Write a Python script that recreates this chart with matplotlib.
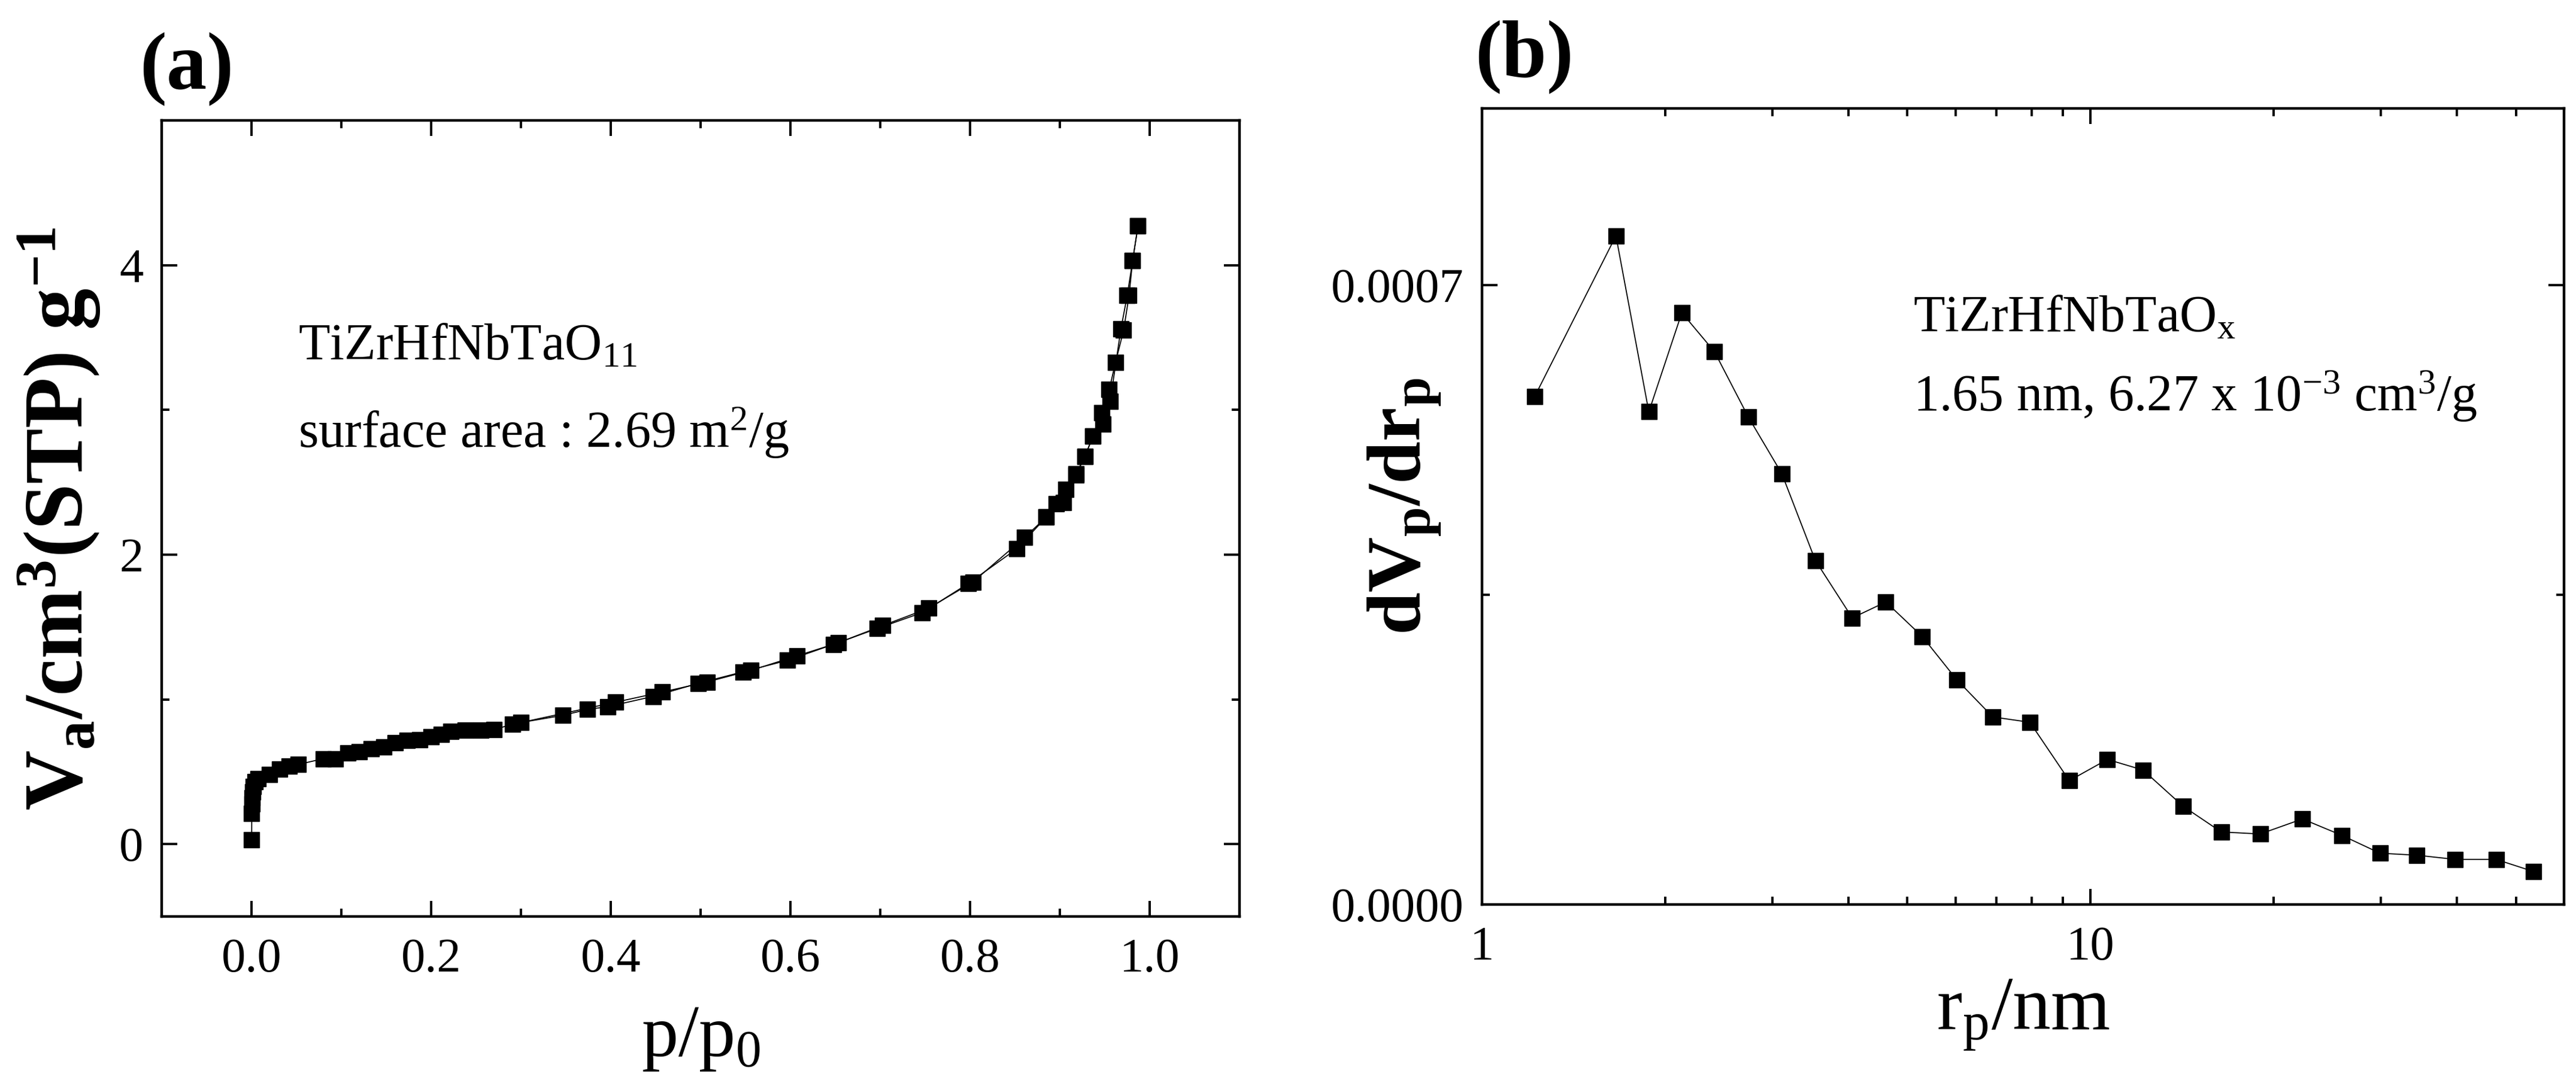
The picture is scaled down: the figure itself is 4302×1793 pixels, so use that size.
import numpy as np
import matplotlib
matplotlib.use('Agg')
import matplotlib.pyplot as plt
from matplotlib.ticker import MultipleLocator, FixedLocator, NullFormatter, LogLocator

plt.rcParams['font.family'] = ['Liberation Serif', 'DejaVu Serif']
plt.rcParams['mathtext.fontset'] = 'custom'
plt.rcParams['mathtext.rm'] = 'Liberation Serif'
plt.rcParams['mathtext.it'] = 'Liberation Serif:italic'
plt.rcParams['mathtext.bf'] = 'Liberation Serif:bold'

# (a) N2 isotherm - adsorption branch
p_ads = [0.0002, 0.0003, 0.0005, 0.0008, 0.0012, 0.002, 0.004, 0.007,
         0.020, 0.031, 0.042, 0.052,
         0.080, 0.093, 0.107, 0.120, 0.133, 0.147, 0.160, 0.173, 0.187, 0.200,
         0.211, 0.222, 0.238, 0.255, 0.270, 0.291,
         0.347, 0.374, 0.397, 0.447, 0.497, 0.547, 0.597, 0.648, 0.697, 0.747, 0.798,
         0.852, 0.885, 0.896, 0.907, 0.918, 0.928, 0.937, 0.947, 0.955, 0.962,
         0.971, 0.977, 0.981, 0.987]
v_ads = [0.03, 0.21, 0.28, 0.32, 0.36, 0.40, 0.43, 0.45,
         0.48, 0.52, 0.54, 0.55,
         0.59, 0.59, 0.63, 0.64, 0.66, 0.67, 0.70, 0.715, 0.72, 0.74,
         0.76, 0.78, 0.785, 0.785, 0.79, 0.83,
         0.89, 0.93, 0.95, 1.02, 1.11, 1.19, 1.27, 1.38, 1.49, 1.60, 1.80,
         2.04, 2.26, 2.35, 2.45, 2.55, 2.68, 2.82, 2.98, 3.14, 3.33,
         3.55, 3.79, 4.03, 4.27]

# (a) desorption branch
p_des = [0.987, 0.981, 0.975, 0.968, 0.956, 0.948, 0.937, 0.928, 0.918, 0.904,
         0.885, 0.861, 0.803, 0.754, 0.703, 0.653, 0.607, 0.556, 0.507, 0.457,
         0.405, 0.300]
v_des = [4.27, 4.03, 3.79, 3.56, 3.06, 2.90, 2.82, 2.68, 2.56, 2.36,
         2.26, 2.12, 1.81, 1.63, 1.51, 1.39, 1.30, 1.20, 1.12, 1.05,
         0.98, 0.84]

# (b) pore size distribution
r_p = [1.22, 1.66, 1.88, 2.13, 2.41, 2.74, 3.11, 3.53, 4.06, 4.61, 5.29, 6.03,
       6.91, 7.95, 9.23, 10.66, 12.2, 14.2, 16.4, 19.0, 22.3, 25.9, 29.9, 34.4,
       39.7, 46.4, 53.5]
dv_dr = [0.000574, 0.000756, 0.000557, 0.000669, 0.000625, 0.000551, 0.000487,
         0.000389, 0.000324, 0.000342, 0.000303, 0.000254, 0.000212, 0.000206,
         0.000140, 0.000164, 0.000152, 0.000111, 0.000082, 0.0000797, 0.0000967,
         0.0000781, 0.000058, 0.0000557, 0.000051, 0.000051, 0.0000372]

W, H = 4302, 1793
fig = plt.figure(figsize=(W / 100, H / 100), dpi=100)
ax1 = fig.add_axes([270 / W, 1 - 1530 / H, 1800 / W, 1329 / H])
ax2 = fig.add_axes([2475 / W, 1 - 1510 / H, 1807 / W, 1329 / H])

mk = dict(color='black', marker='s', markersize=19, linewidth=1.3)
ax1.plot(p_ads, v_ads, **mk)
ax1.plot(p_des, v_des, **mk)
ax2.plot(r_p, dv_dr, **mk)

ax1.set_xlim(-0.1, 1.1)
ax1.set_ylim(-0.5, 5.0)
ax1.xaxis.set_minor_locator(MultipleLocator(0.1))
ax1.yaxis.set_minor_locator(MultipleLocator(1))
ax1.set_xticks(np.arange(0, 1.01, 0.2))
ax1.set_xticklabels(['0.0', '0.2', '0.4', '0.6', '0.8', '1.0'])
ax1.set_yticks([0, 2, 4])
ax1.set_yticklabels(['0', '2', '4'])

ax2.set_xscale('log')
ax2.set_xlim(1, 60)
ax2.set_ylim(0, 0.0009)
ax2.set_xticks([1, 10])
ax2.set_xticklabels(['1', '10'])
ax2.xaxis.set_minor_locator(LogLocator(base=10, subs=np.arange(2, 10)))
ax2.xaxis.set_minor_formatter(NullFormatter())
ax2.set_yticks([0, 0.0007])
ax2.set_yticklabels(['0.0000', '0.0007'])
ax2.yaxis.set_minor_locator(FixedLocator([0.00035]))

for ax in (ax1, ax2):
    for s in ax.spines.values():
        s.set_linewidth(3.2)
    ax.tick_params(which='both', direction='in', top=True, right=True, width=2.8)
    ax.tick_params(which='major', length=18.5, labelsize=58)
    ax.tick_params(which='minor', length=9.5)
    ax.tick_params(axis='x', which='major', pad=26)
    ax.tick_params(axis='y', which='major', pad=22)

ax1.set_xlabel(r'p/p$_0$', fontsize=88)
ax1.xaxis.set_label_coords(0.5, -0.112)
ax1.set_ylabel(r'$\mathbf{V_a/cm^3(STP)\ g^{-1}}$', fontsize=100)
ax1.yaxis.set_label_coords(-0.055, 0.5)

ax2.set_xlabel(r'r$_\mathrm{p}$/nm', fontsize=92)
ax2.xaxis.set_label_coords(0.5, -0.092)
ax2.set_ylabel(r'$\mathbf{dV_p/dr_p}$', fontsize=92)
ax2.yaxis.set_label_coords(-0.036, 0.5)

ax1.text(0.052, 3.35, r'TiZrHfNbTaO$_{\mathrm{11}}$', fontsize=62)
ax1.text(0.052, 2.74, r'surface area : 2.69 m$^\mathrm{2}$/g', fontsize=62)
ax2.text(5.11, 0.000648, r'TiZrHfNbTaO$_\mathrm{x}$', fontsize=62)
ax2.text(5.11, 0.000558, r'1.65 nm, 6.27 x 10$^{\mathrm{-3}}$ cm$^\mathrm{3}$/g', fontsize=62)

fig.text(233 / W, 1 - 148 / H, '(a)', fontsize=97, fontweight='bold')
fig.text(2463 / W, 1 - 128 / H, '(b)', fontsize=97, fontweight='bold')

fig.savefig('out.png', dpi=100)
